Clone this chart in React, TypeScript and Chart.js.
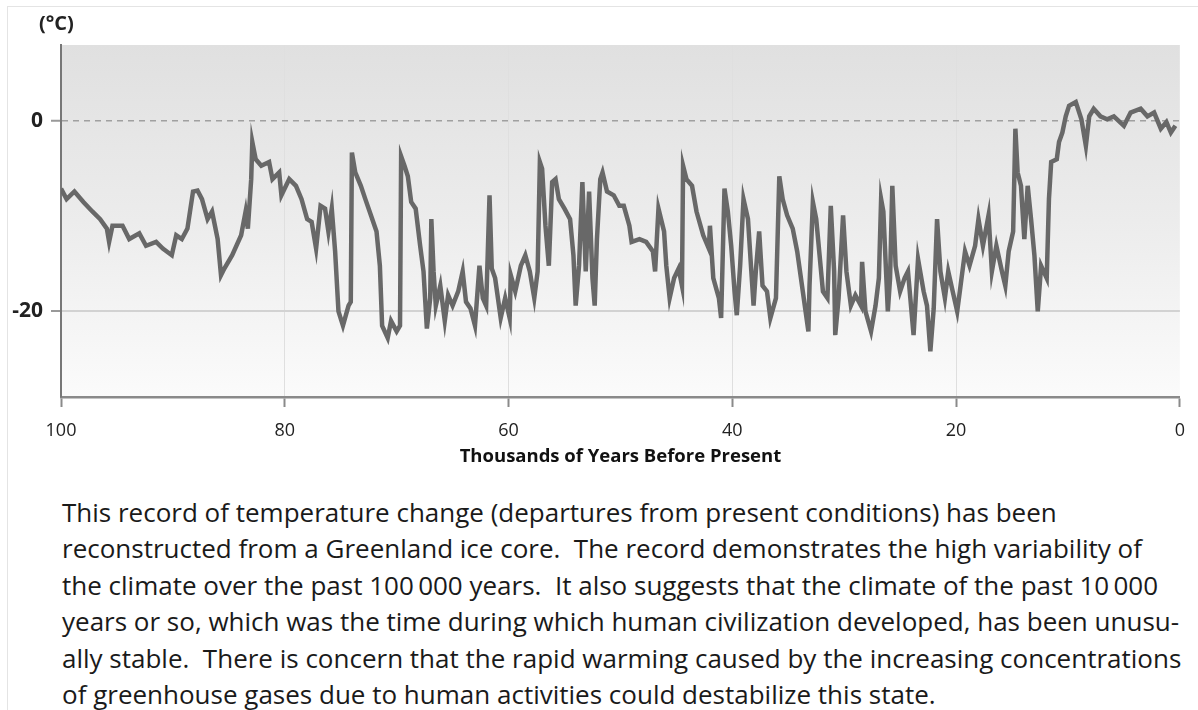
import React, { useEffect, useRef } from "react";
import { Chart, registerables } from "chart.js";

Chart.register(...registerables);

// Thousands of years before present
const years = [
  100, 99.5, 98.8, 98, 97.2, 96.5, 95.9, 95.7, 95.4, 94.5, 93.9, 93, 92.4, 91.5, 90.9, 90.1, 89.7, 89.2, 88.7, 88.2,
  87.8, 87.4, 86.9, 86.5, 86, 85.7, 85.4, 84.7, 83.9, 83.5, 83.3, 83, 82.9, 82.6, 82.1, 81.4, 81.1, 80.5, 80.3, 79.6,
  79, 78.5, 78, 77.6, 77.2, 76.8, 76.4, 76.1, 75.8, 75.5, 75.2, 74.8, 74.3, 74.1, 74.0, 73.7, 73.2, 72.8, 72.3, 71.8,
  71.5, 71.3, 70.8, 70.5, 70, 69.7, 69.6, 69.3, 69, 68.7, 68.3, 67.9, 67.6, 67.3, 67, 66.9, 66.7, 66.5, 66.1, 65.7,
  65.4, 65, 64.5, 64.1, 63.8, 63.4, 63, 62.6, 62.3, 62, 61.7, 61.5, 61.2, 60.7, 60.3, 59.9, 59.8, 59.4, 58.9, 58.5,
  58.1, 57.7, 57.4, 57.2, 57, 56.7, 56.4, 56.1, 55.8, 55.5, 55, 54.5, 54.2, 54, 53.7, 53.4, 53.1, 52.8, 52.5, 52.3,
  52.1, 51.8, 51.6, 51.2, 50.6, 50.1, 49.7, 49.2, 49, 48.3, 47.7, 47.1, 46.9, 46.6, 46.1, 45.9, 45.6, 45.2, 44.8, 44.5,
  44.4, 44.1, 43.6, 43.2, 42.6, 42.1, 42, 41.7, 41.2, 41, 40.7, 40.4, 40.1, 39.8, 39.6, 39.3, 39, 38.6, 38.3, 38.1,
  37.9, 37.6, 37.3, 36.9, 36.6, 36.1, 35.8, 35.5, 35.1, 34.6, 34.2, 33.7, 33.2, 33.1, 32.8, 32.5, 32.2, 31.9, 31.5, 31.2,
  30.9, 30.8, 30.5, 30.1, 29.8, 29.4, 29, 28.5, 28.4, 28.1, 27.6, 27.2, 26.9, 26.7, 26.5, 26.1, 25.9, 25.7, 25.4, 25,
  24.6, 24.3, 23.8, 23.4, 22.9, 22.6, 22.3, 22, 21.7, 21.4, 21, 20.7, 20.3, 19.9, 19.6, 19.2, 18.8, 18.3, 18, 17.6,
  17.1, 16.8, 16.4, 15.9, 15.6, 15.3, 14.9, 14.7, 14.5, 14.2, 13.9, 13.6, 13.3, 13, 12.7, 12.4, 11.9, 11.7, 11.5, 11,
  10.8, 10.5, 10.2, 9.9, 9.3, 8.8, 8.4, 8.1, 7.7, 7.1, 6.5, 5.9, 5, 4.4, 3.5, 2.9, 2.3, 1.7, 1.2, 0.8,
  0.4,
];

// Temperature departure from present (°C)
const temps = [
  -7.1, -8.2, -7.4, -8.5, -9.5, -10.3, -11.3, -12.7, -11, -11, -12.4, -11.8, -13.1, -12.7, -13.4, -14.1, -12, -12.4, -11.3, -7.4,
  -7.3, -8.2, -10.3, -9.5, -12.4, -16.2, -15.5, -14.1, -12, -9.5, -11.3, -6.1, -2.2, -4, -4.7, -4.3, -6.1, -5.4, -7.8, -6.1,
  -6.8, -8.2, -10.3, -10.6, -13.4, -8.9, -9.2, -11.6, -9.2, -13.7, -20, -21.5, -19.4, -19, -3.3, -5.4, -6.8, -8.2, -9.9, -11.6,
  -15.2, -21.5, -22.8, -21, -22.1, -21.5, -3.7, -4.7, -5.8, -8.5, -9.2, -13.1, -15.8, -21.8, -18.6, -10.3, -15.8, -19.4, -17.3, -21,
  -18.3, -19.4, -17.9, -15.8, -19, -19.7, -21.5, -15.2, -18.6, -19.4, -7.8, -15.5, -16.5, -20.7, -18.6, -20.7, -16.2, -17.9, -15.2, -14.1,
  -15.8, -18.6, -15.8, -4.3, -5, -11, -15.2, -6.4, -6.1, -8.2, -9.2, -10.3, -14.1, -19.4, -15.2, -6.4, -15.8, -7.4, -16.5, -19.4,
  -12.4, -6.1, -5.4, -7.4, -7.8, -8.9, -8.9, -11, -12.7, -12.4, -12.7, -13.7, -15.8, -9.2, -11.6, -15.2, -18.6, -16.5, -15.5, -17.3,
  -4.7, -6.1, -6.8, -9.5, -12, -13.4, -11, -16.5, -18.6, -20.7, -7.1, -9.5, -13.1, -17.9, -20.4, -15.2, -8.2, -10.3, -15.8, -19.4,
  -15.8, -11.6, -17.3, -17.9, -20.7, -18.6, -5.8, -8.2, -9.9, -11.3, -13.7, -17.9, -22.1, -17.3, -8.5, -10.3, -14.1, -17.9, -18.6, -8.9,
  -15.8, -22.5, -18.6, -9.9, -15.8, -19.4, -18.3, -19.4, -14.8, -20, -22.1, -19.4, -16.5, -8.2, -9.5, -20, -16.5, -6.8, -15.2, -17.9,
  -16.5, -15.8, -22.5, -14.5, -17.9, -19.4, -24.2, -19.7, -10.3, -15.8, -18.6, -15.8, -17.9, -20, -17.3, -13.7, -15.2, -13.1, -10.3, -13.1,
  -9.9, -15.8, -13.1, -15.8, -17.3, -13.7, -11.6, -0.8, -5.4, -6.8, -12.4, -6.8, -10.3, -14.1, -20, -15.2, -16.5, -8.2, -4.3, -4,
  -2.2, -1.2, 0.5, 1.6, 2, 0.2, -2.6, 0.5, 1.3, 0.5, 0.2, 0.5, -0.5, 0.9, 1.3, 0.5, 0.9, -0.8, -0.1, -1.2,
  -0.5,
];

const xTicks = [100, 80, 60, 40, 20, 0];
const yTicks = [0, -20];
const yUnit = "(°C)";
const xTitle = "Thousands of Years Before Present";
const captionLines = [
  "This record of temperature change (departures from present conditions) has been",
  "reconstructed from a Greenland ice core.  The record demonstrates the high variability of",
  "the climate over the past 100\u2009000 years.  It also suggests that the climate of the past 10\u2009000",
  "years or so, which was the time during which human civilization developed, has been unusu-",
  "ally stable.  There is concern that the rapid warming caused by the increasing concentrations",
  "of greenhouse gases due to human activities could destabilize this state.",
];

const FONT = '"Open Sans", "Noto Sans", sans-serif';

export default function App() {
  const ref = useRef<HTMLCanvasElement | null>(null);

  useEffect(() => {
    if (!ref.current) return;
    const bgPlugin = {
      id: "bgGradient",
      beforeDraw(chart: any) {
        const { ctx, chartArea: a } = chart;
        const g = ctx.createLinearGradient(0, a.top, 0, a.bottom);
        g.addColorStop(0, "#e0e0e0");
        g.addColorStop(0.5, "#ececec");
        g.addColorStop(1, "#fbfbfb");
        ctx.save();
        ctx.fillStyle = g;
        ctx.fillRect(a.left, a.top, a.right - a.left, a.bottom - a.top);
        ctx.restore();
      },
    };

    const chart = new Chart(ref.current, {
      type: "line",
      data: {
        datasets: [
          {
            data: years.map((x, i) => ({ x, y: temps[i] })),
            borderColor: "#686868",
            borderWidth: 4.5,
            pointRadius: 0,
            tension: 0,
            fill: false,
          },
        ],
      },
      options: {
        animation: false,
        responsive: false,
        devicePixelRatio: 1,
        layout: { padding: { top: 45, right: 10, left: 0, bottom: 0 } },
        plugins: { legend: { display: false }, tooltip: { enabled: false } },
        scales: {
          x: {
            type: "linear",
            reverse: true,
            min: 0,
            max: 100,
            afterBuildTicks: (s: any) => {
              s.ticks = xTicks.map((v) => ({ value: v }));
            },
            afterFit: (s: any) => {
              s.height = 78;
            },
            ticks: {
              font: { family: FONT, size: 18 },
              color: "#222",
              padding: 13,
              maxRotation: 0,
            },
            grid: {
              color: (c: any) => (c.tick && (c.tick.value === 0 || c.tick.value === 100) ? "rgba(0,0,0,0)" : "#dfdfdf"),
              lineWidth: 1,
              tickColor: "#8a8a8a",
              tickLength: 10,
              tickWidth: 2,
            },
            border: { display: true, color: "#8a8a8a", width: 2.5 },
            title: {
              display: true,
              text: xTitle,
              font: { family: FONT, size: 18.5, weight: "bold" },
              color: "#111",
              padding: { top: 0, bottom: 7 },
            },
          },
          y: {
            min: -29,
            max: 8,
            afterBuildTicks: (s: any) => {
              s.ticks = yTicks.map((v) => ({ value: v }));
            },
            afterFit: (s: any) => {
              s.width = 61;
            },
            ticks: {
              font: { family: FONT, size: 21, weight: "bold" },
              color: "#222",
              padding: 8,
            },
            grid: {
              color: (c: any) => (c.tick && c.tick.value === 0 ? "#a0a0a0" : "#d2d2d2"),
              lineWidth: (c: any) => (c.tick && c.tick.value === 0 ? 1.5 : 2),
              tickColor: "#999",
              tickLength: 10,
              tickWidth: 2,
            },
            border: {
              display: true,
              color: "#777",
              width: 2,
              dash: (c: any) => (c.tick && c.tick.value === 0 ? [6, 5] : []),
            },
          },
        },
      },
      plugins: [bgPlugin],
    } as any);
    return () => chart.destroy();
  }, []);

  return (
    <div
      style={{
        position: "absolute",
        left: 0,
        top: 0,
        width: 1198,
        height: 710,
        background: "#fff",
        overflow: "hidden",
        fontFamily: FONT,
      }}
    >
      <div
        style={{
          position: "absolute",
          left: 7,
          top: 6,
          width: 1191,
          height: 704,
          borderLeft: "1px solid #e4e4e4",
          borderTop: "1px solid #e4e4e4",
        }}
      />
      <canvas ref={ref} width={1198} height={475} style={{ position: "absolute", left: 0, top: 0, display: "block" }} />
      <div
        style={{
          position: "absolute",
          left: 39,
          top: 10,
          fontSize: 20,
          fontWeight: 700,
          color: "#222",
          lineHeight: "26px",
        }}
      >
        {yUnit}
      </div>
      <div
        style={{
          position: "absolute",
          left: 62,
          top: 494,
          fontSize: 26,
          lineHeight: "36.4px",
          color: "#1a1a1a",
          whiteSpace: "pre",
        }}
      >
        {captionLines.map((l, i) => (
          <div key={i}>{l}</div>
        ))}
      </div>
    </div>
  );
}
